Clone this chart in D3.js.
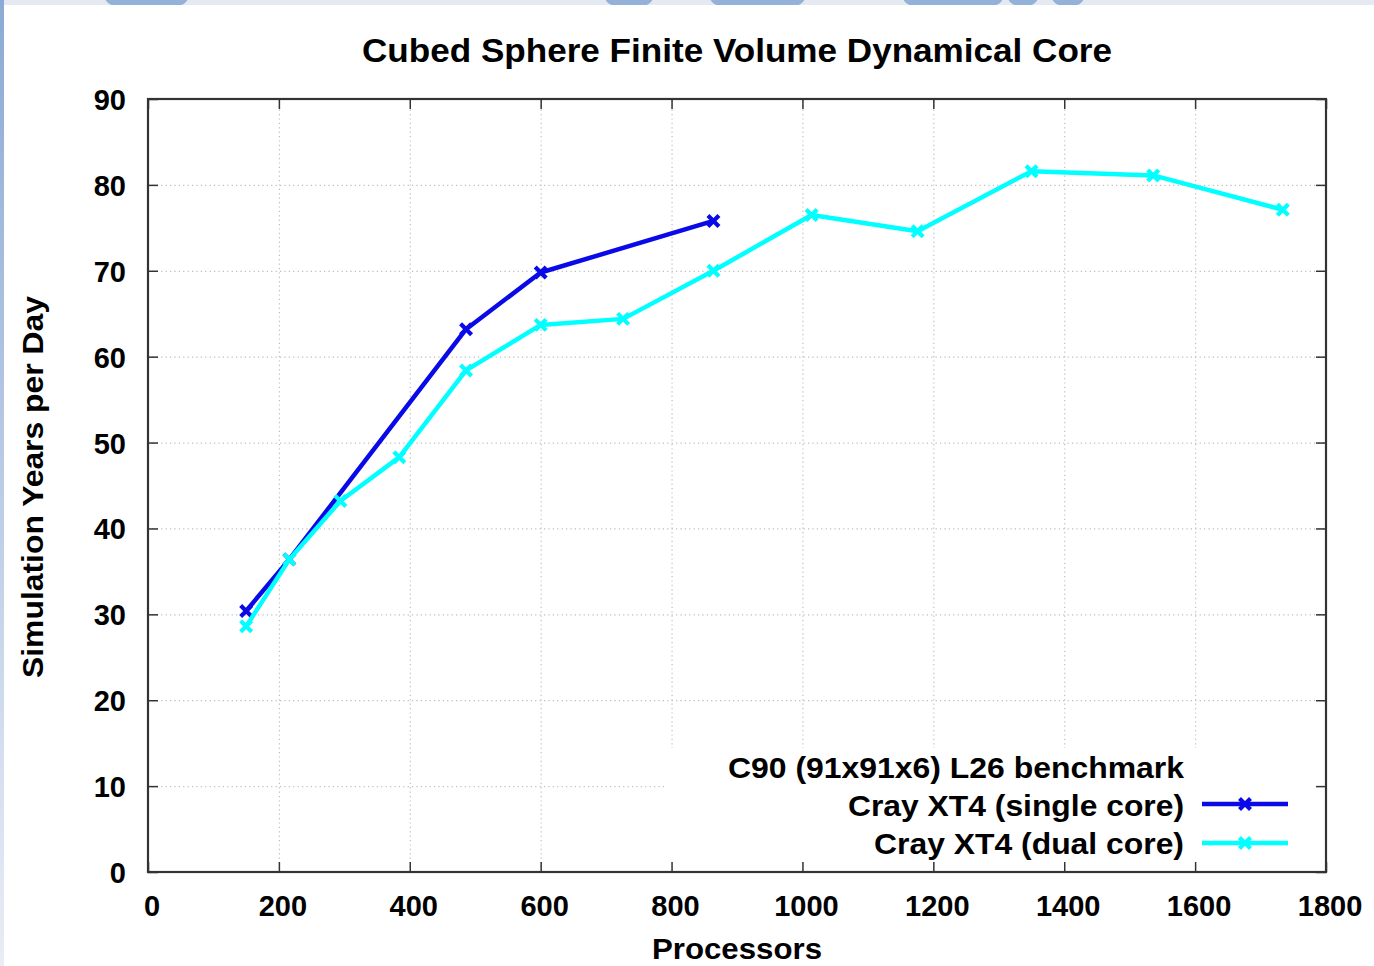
<!DOCTYPE html>
<html>
<head>
<meta charset="utf-8">
<script src="https://cdn.jsdelivr.net/npm/d3@7/dist/d3.min.js"></script>
<style>
  html, body { margin: 0; padding: 0; background: #ffffff; }
  svg { display: block; }
  text { font-family: "Liberation Sans", Arial, Helvetica, sans-serif; font-weight: bold; fill: #000; }
</style>
</head>
<body>
<svg id="chart" width="1374" height="966"></svg>
<script>
// ---------------- data ----------------
const titleText = "Cubed Sphere Finite Volume Dynamical Core";
const xAxisTitle = "Processors";
const yAxisTitle = "Simulation Years per Day";
const legendTitle = "C90 (91x91x6) L26 benchmark";
const seriesNames = ["Cray XT4 (single core)", "Cray XT4 (dual core)"];
const seriesColors = ["#0a0ae8", "#00ffff"];

const processorsSingle = [150, 216, 486, 600, 864];
const yearsSingle      = [30.4, 36.4, 63.2, 69.8, 75.8];

const processorsDual = [150, 216, 294, 384, 486, 600, 726, 864, 1014, 1176, 1350, 1536, 1734];
const yearsDual      = [28.6, 36.4, 43.2, 48.3, 58.4, 63.7, 64.4, 70.0, 76.5, 74.6, 81.6, 81.1, 77.1];

const xTicks = [0, 200, 400, 600, 800, 1000, 1200, 1400, 1600, 1800];
const yTicks = [0, 10, 20, 30, 40, 50, 60, 70, 80, 90];

// ---------------- layout ----------------
const svg = d3.select("#chart");
const L = 148, R = 1326, T = 99, B = 872;

const x = d3.scaleLinear().domain([0, 1800]).range([L, R]);
const y = d3.scaleLinear().domain([0, 90]).range([B, T]);

// background decoration (top strip and left strip)
const defs = svg.append("defs");
const grad = defs.append("linearGradient").attr("id", "leftGrad")
  .attr("x1", 0).attr("y1", 0).attr("x2", 0).attr("y2", 1);
grad.append("stop").attr("offset", "0%").attr("stop-color", "#8caad5");
grad.append("stop").attr("offset", "100%").attr("stop-color", "#e8edf6");
defs.append("clipPath").attr("id", "topClip").append("rect")
  .attr("x", 0).attr("y", 0).attr("width", 1374).attr("height", 5);

svg.append("rect").attr("x", 0).attr("y", 0).attr("width", 1374).attr("height", 5).attr("fill", "#e4e9f2");
const topShapes = [[105, 83], [605, 48], [710, 95], [903, 100], [1008, 30], [1052, 32]];
svg.append("g").attr("clip-path", "url(#topClip)")
  .selectAll("rect").data(topShapes).join("rect")
  .attr("x", d => d[0]).attr("y", -12).attr("width", d => d[1]).attr("height", 18)
  .attr("rx", 12).attr("fill", "#93b1d9");
svg.append("rect").attr("x", 0).attr("y", 0).attr("width", 4).attr("height", 966).attr("fill", "url(#leftGrad)");

// ---------------- grid ----------------
const gridColor = "#bdbdbd";
const gx = svg.append("g").attr("transform", `translate(0,${B})`)
  .call(d3.axisBottom(x).tickValues(xTicks.slice(1, -1)).tickSize(-(B - T)).tickFormat(""));
gx.select(".domain").remove();
gx.selectAll("line").attr("stroke", gridColor).attr("stroke-width", 1.2).attr("stroke-dasharray", "1.2,3.2");

const gy = svg.append("g").attr("transform", `translate(${L},0)`)
  .call(d3.axisLeft(y).tickValues(yTicks.slice(1, -1)).tickSize(-(R - L)).tickFormat(""));
gy.select(".domain").remove();
gy.selectAll("line").attr("stroke", gridColor).attr("stroke-width", 1.2).attr("stroke-dasharray", "1.2,3.2");

// ---------------- legend box (opaque) ----------------
svg.append("rect").attr("x", 666).attr("y", 748).attr("width", R - 666).attr("height", B - 748).attr("fill", "#fff");

// ---------------- axes (ticks inward, labels) ----------------
const axisColor = "#333";
const ax = svg.append("g").attr("transform", `translate(0,${B})`)
  .call(d3.axisBottom(x).tickValues(xTicks).tickSize(-10).tickPadding(23).tickFormat(d3.format("d")));
ax.select(".domain").remove();
ax.selectAll("line").attr("stroke", axisColor).attr("stroke-width", 1.5);
ax.selectAll("text").attr("font-size", 29).attr("dx", 3.5)
  .style("font-family", "'Liberation Sans', Arial, sans-serif").style("font-weight", "bold").attr("fill", "#000");

const ay = svg.append("g").attr("transform", `translate(${L},0)`)
  .call(d3.axisLeft(y).tickValues(yTicks).tickSize(-10).tickPadding(22).tickFormat(d3.format("d")));
ay.select(".domain").remove();
ay.selectAll("line").attr("stroke", axisColor).attr("stroke-width", 1.5);
ay.selectAll("text").attr("font-size", 29).attr("dy", "0.36em")
  .style("font-family", "'Liberation Sans', Arial, sans-serif").style("font-weight", "bold").attr("fill", "#000");

const at = svg.append("g").attr("transform", `translate(0,${T})`)
  .call(d3.axisTop(x).tickValues(xTicks).tickSize(-10).tickFormat(""));
at.select(".domain").remove();
at.selectAll("line").attr("stroke", axisColor).attr("stroke-width", 1.5);

const ar = svg.append("g").attr("transform", `translate(${R},0)`)
  .call(d3.axisRight(y).tickValues(yTicks).tickSize(-10).tickFormat(""));
ar.select(".domain").remove();
ar.selectAll("line").attr("stroke", axisColor).attr("stroke-width", 1.5);

// frame
svg.append("rect").attr("x", L).attr("y", T).attr("width", R - L).attr("height", B - T)
  .attr("fill", "none").attr("stroke", axisColor).attr("stroke-width", 2.2);

// ---------------- series ----------------
const series = [
  { name: seriesNames[0], color: seriesColors[0], xs: processorsSingle, ys: yearsSingle },
  { name: seriesNames[1], color: seriesColors[1], xs: processorsDual, ys: yearsDual }
];
const line = d3.line().x(d => x(d[0])).y(d => y(d[1]));
const ms = 5.5;
const crossPath = `M${-ms},${-ms}L${ms},${ms}M${-ms},${ms}L${ms},${-ms}`;

series.forEach(s => {
  const pts = s.xs.map((v, i) => [v, s.ys[i]]);
  svg.append("path").datum(pts).attr("d", line)
    .attr("fill", "none").attr("stroke", s.color).attr("stroke-width", 4.5)
    .attr("stroke-linejoin", "round");
  svg.append("g").selectAll("path").data(pts).join("path")
    .attr("transform", d => `translate(${x(d[0])},${y(d[1])})`)
    .attr("d", crossPath).attr("stroke", s.color).attr("stroke-width", 4.2).attr("fill", "none");
});

// ---------------- texts ----------------
function fitText(sel, targetWidth) {
  sel.attr("textLength", targetWidth).attr("lengthAdjust", "spacingAndGlyphs");
  return sel;
}

fitText(svg.append("text").attr("x", 362).attr("y", 62).attr("font-size", 34).text(titleText), 750);
fitText(svg.append("text").attr("x", 652).attr("y", 959).attr("font-size", 29).text(xAxisTitle), 170);
fitText(svg.append("text").attr("transform", "translate(43,678) rotate(-90)")
  .attr("x", 0).attr("y", 0).attr("font-size", 30).text(yAxisTitle), 382);

// legend
const legRight = 1184;
const legendRows = [
  { text: legendTitle, left: 728, base: 778 },
  { text: seriesNames[0], left: 848, base: 816 },
  { text: seriesNames[1], left: 874, base: 854 }
];
legendRows.forEach(r => {
  fitText(svg.append("text").attr("x", r.left).attr("y", r.base).attr("font-size", 30).text(r.text), legRight - r.left);
});
const legLineY = [804, 843];
series.forEach((s, i) => {
  svg.append("line").attr("x1", 1202).attr("x2", 1288).attr("y1", legLineY[i]).attr("y2", legLineY[i])
    .attr("stroke", s.color).attr("stroke-width", 4.5);
  svg.append("path").attr("transform", `translate(1245,${legLineY[i]})`)
    .attr("d", crossPath).attr("stroke", s.color).attr("stroke-width", 4.2).attr("fill", "none");
});
</script>
</body>
</html>
